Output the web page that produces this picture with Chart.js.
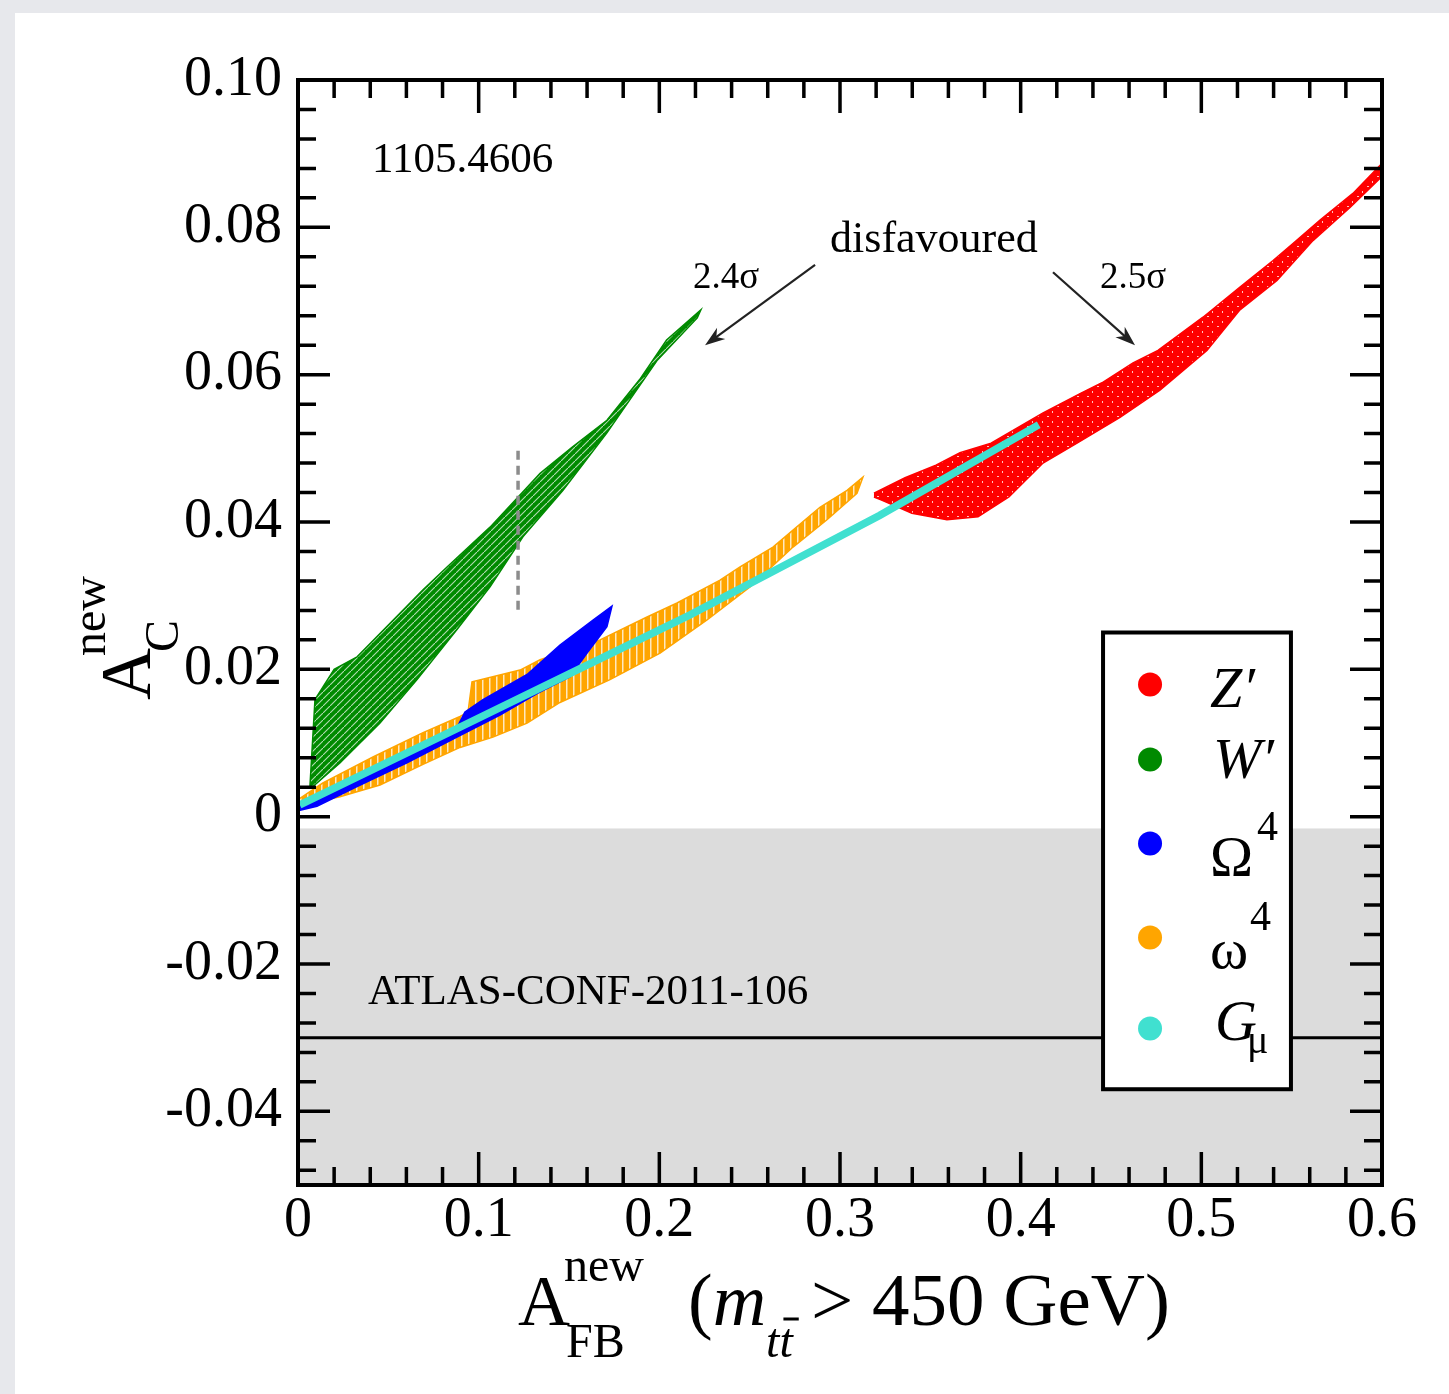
<!DOCTYPE html>
<html>
<head>
<meta charset="utf-8">
<script src="https://cdn.jsdelivr.net/npm/chart.js@4.4.1/dist/chart.umd.min.js"></script>
<style>
  html, body { margin: 0; padding: 0; background: #e7e8ec; }
  #wrap { position: absolute; left: 15px; top: 13px; width: 1434px; height: 1381px; background: #fff; }
  canvas { display: block; }
</style>
</head>
<body>
<div id="wrap"><canvas id="chart" width="1434" height="1381"></canvas></div>
<script>
// axis ticks
const xTickValues = [0, 0.1, 0.2, 0.3, 0.4, 0.5, 0.6];
const xTickLabels = ["0", "0.1", "0.2", "0.3", "0.4", "0.5", "0.6"];
const yTickValues = [-0.04, -0.02, 0, 0.02, 0.04, 0.06, 0.08, 0.10];
const yTickLabels = ["-0.04", "-0.02", "0", "0.02", "0.04", "0.06", "0.08", "0.10"];

// outlines of the scanned regions, [A_FB, A_C]
const zPrimeOutline = [
  [0.3188, 0.0439], [0.3360, 0.0460], [0.3531, 0.0477], [0.3664, 0.0494], [0.3836, 0.0507],
  [0.4124, 0.0548], [0.4334, 0.0575], [0.4450, 0.0589], [0.4622, 0.0616], [0.4760, 0.0633],
  [0.5009, 0.0678], [0.5214, 0.0719], [0.5397, 0.0755], [0.5507, 0.0778], [0.5657, 0.0810],
  [0.5839, 0.0846], [0.6000, 0.0887],
  [0.6000, 0.0869], [0.5823, 0.0827], [0.5618, 0.0782], [0.5419, 0.0728], [0.5214, 0.0688],
  [0.5031, 0.0633], [0.4771, 0.0579], [0.4550, 0.0542], [0.4312, 0.0507], [0.4124, 0.0480],
  [0.3935, 0.0434], [0.3764, 0.0407], [0.3592, 0.0403], [0.3398, 0.0412], [0.3227, 0.0430],
  [0.3188, 0.0434]
];
const wPrimeOutline = [
  [0.0066, 0.0041], [0.0094, 0.0159], [0.0200, 0.0200], [0.0327, 0.0217], [0.0692, 0.0308],
  [0.0825, 0.0339], [0.1063, 0.0393], [0.1340, 0.0466], [0.1520, 0.0502], [0.1710, 0.0538],
  [0.1890, 0.0593], [0.2040, 0.0647], [0.2230, 0.0688],
  [0.2210, 0.0677], [0.1990, 0.0620], [0.1710, 0.0521], [0.1467, 0.0443], [0.1245, 0.0380],
  [0.1063, 0.0312], [0.0880, 0.0254], [0.0659, 0.0186], [0.0454, 0.0127], [0.0232, 0.0073],
  [0.0083, 0.0041]
];
const omegaCapOutline = [
  [0.0000, 0.0016], [0.0327, 0.0055], [0.0692, 0.0098], [0.0880, 0.0121], [0.0924, 0.0142],
  [0.1024, 0.0159], [0.1268, 0.0193], [0.1450, 0.0233], [0.1633, 0.0267], [0.1738, 0.0286],
  [0.1710, 0.0258], [0.1600, 0.0222], [0.1506, 0.0190], [0.1323, 0.0167], [0.1118, 0.0138],
  [0.0880, 0.0108], [0.0603, 0.0073], [0.0327, 0.0041], [0.0105, 0.0014], [0.0000, 0.0008]
];
const omegaOutline = [
  [0.0000, 0.0023], [0.0138, 0.0046], [0.0415, 0.0081], [0.0692, 0.0114], [0.0897, 0.0136],
  [0.0941, 0.0142], [0.0963, 0.0183], [0.1229, 0.0199], [0.1340, 0.0213], [0.1672, 0.0240],
  [0.1932, 0.0271], [0.2098, 0.0290], [0.2336, 0.0321], [0.2447, 0.0339], [0.2629, 0.0366],
  [0.2740, 0.0389], [0.2889, 0.0420], [0.3039, 0.0443], [0.3127, 0.0461],
  [0.3094, 0.0439], [0.2928, 0.0403], [0.2740, 0.0366], [0.2502, 0.0312], [0.2264, 0.0267],
  [0.2004, 0.0222], [0.1727, 0.0186], [0.1450, 0.0155], [0.1268, 0.0127], [0.1079, 0.0108],
  [0.0897, 0.0094], [0.0692, 0.0071], [0.0454, 0.0043], [0.0232, 0.0027], [0.0011, 0.0015]
];
const gMuLine = [[0.001, 0.0016], [0.090, 0.0122], [0.217, 0.0274], [0.322, 0.0409], [0.410, 0.0532]];

// W' bound (dashed) and ATLAS measurement
const wBoundX = 0.1218;
const wBoundY = [0.0281, 0.0502];
const atlasValue = -0.030;
const atlasBandTop = -0.0016;

const legendColors = ["#ff0000", "#008a00", "#0000ff", "#ffa500", "#40e0d0"];

const SERIF = '"Liberation Serif", "Times New Roman", serif';
const serif = (size, italic) => (italic ? "italic " : "") + size + "px " + SERIF;
const pts = arr => arr.map(([x, y]) => ({ x, y }));

function makePattern(color, w, h, cut) {
  const c = document.createElement("canvas");
  c.width = w; c.height = h;
  const g = c.getContext("2d");
  g.fillStyle = color;
  g.fillRect(0, 0, w, h);
  g.fillStyle = "rgba(255,255,255,0.75)";
  g.strokeStyle = "rgba(255,255,255,0.7)";
  cut(g);
  return g.createPattern(c, "repeat");
}
const ctx = document.getElementById("chart").getContext("2d");
const greenFill = makePattern("#008a00", 7, 7, g => {
  g.lineWidth = 1.1;
  g.beginPath(); g.moveTo(0, 7); g.lineTo(7, 0); g.stroke();
});
const redFill = makePattern("#ff0000", 10, 10, g => {
  g.fillRect(2, 3, 2, 1); g.fillRect(7, 8, 1, 2);
});
const orangeFill = makePattern("#ffa500", 7, 7, g => {
  g.fillRect(5, 0, 1.5, 7);
});

const notes = [
  { text: "1105.4606", x: 0.041, y: 0.0875, size: 43 },
  { text: "disfavoured", x: 0.2945, y: 0.0766, size: 44 },
  { text: "2.4σ", x: 0.2186, y: 0.0717, size: 37 },
  { text: "2.5σ", x: 0.4439, y: 0.0717, size: 37 },
  { text: "ATLAS-CONF-2011-106", x: 0.0387, y: -0.0254, size: 43 }
];
const arrows = [
  { from: [0.2862, 0.0749], to: [0.2253, 0.0640] },
  { from: [0.4179, 0.0739], to: [0.4633, 0.0640] }
];

const decor = {
  id: "decor",
  beforeDatasetsDraw(chart) {
    const { ctx, chartArea: a, scales: { y } } = chart;
    const top = y.getPixelForValue(atlasBandTop);
    ctx.save();
    ctx.fillStyle = "#dcdcdc";
    ctx.fillRect(a.left, top, a.right - a.left, a.bottom - top);
    ctx.restore();
  },
  afterDatasetsDraw(chart) {
    const { ctx, chartArea: a, scales: { x, y } } = chart;
    ctx.save();
    // inner ticks on all four sides
    ctx.strokeStyle = "#000";
    ctx.lineWidth = 3.5;
    ctx.beginPath();
    for (let i = 0; i <= 30; i++) {
      const px = x.getPixelForValue(i * 0.02);
      const len = i % 5 === 0 ? 33 : 18;
      ctx.moveTo(px, a.bottom); ctx.lineTo(px, a.bottom - len);
      ctx.moveTo(px, a.top); ctx.lineTo(px, a.top + len);
    }
    for (let i = -12; i <= 25; i++) {
      const py = y.getPixelForValue(i * 0.004);
      const len = i % 5 === 0 ? 32 : 18;
      ctx.moveTo(a.left, py); ctx.lineTo(a.left + len, py);
      ctx.moveTo(a.right, py); ctx.lineTo(a.right - len, py);
    }
    ctx.stroke();
    ctx.lineWidth = 4;
    ctx.strokeRect(a.left, a.top, a.right - a.left, a.bottom - a.top);

    // notes and arrows
    ctx.fillStyle = "#000";
    ctx.textBaseline = "alphabetic";
    notes.forEach(n => {
      ctx.font = serif(n.size);
      ctx.fillText(n.text, x.getPixelForValue(n.x), y.getPixelForValue(n.y));
    });
    ctx.strokeStyle = "#222";
    ctx.fillStyle = "#222";
    ctx.lineWidth = 2.2;
    arrows.forEach(ar => {
      const x0 = x.getPixelForValue(ar.from[0]), y0 = y.getPixelForValue(ar.from[1]);
      const x1 = x.getPixelForValue(ar.to[0]), y1 = y.getPixelForValue(ar.to[1]);
      const ang = Math.atan2(y1 - y0, x1 - x0);
      const c = Math.cos(ang), s = Math.sin(ang);
      ctx.beginPath(); ctx.moveTo(x0, y0);
      ctx.lineTo(x1 - 10 * c, y1 - 10 * s); ctx.stroke();
      ctx.beginPath();
      ctx.moveTo(x1, y1);
      ctx.lineTo(x1 - 20 * c + 7 * s, y1 - 20 * s - 7 * c);
      ctx.lineTo(x1 - 14 * c, y1 - 14 * s);
      ctx.lineTo(x1 - 20 * c - 7 * s, y1 - 20 * s + 7 * c);
      ctx.closePath(); ctx.fill();
    });
    ctx.restore();
  },
  afterDraw(chart) {
    const { ctx, chartArea: a, scales: { x, y } } = chart;
    ctx.save();
    ctx.textBaseline = "alphabetic";

    // legend box
    const L = x.getPixelForValue(0.4456), R = x.getPixelForValue(0.5496);
    const T = y.getPixelForValue(0.0250), B = y.getPixelForValue(-0.0370);
    ctx.fillStyle = "#fff";
    ctx.fillRect(L, T, R - L, B - T);
    ctx.strokeStyle = "#000";
    ctx.lineWidth = 4;
    ctx.strokeRect(L, T, R - L, B - T);
    const rows = [52, 127, 211, 305, 396];
    rows.forEach((dy, i) => {
      ctx.fillStyle = legendColors[i];
      ctx.beginPath(); ctx.arc(L + 47, T + dy, 12, 0, Math.PI * 2); ctx.fill();
    });
    ctx.fillStyle = "#000";
    ctx.font = serif(58, true);
    ctx.fillText("Z′", L + 107, T + 74);
    ctx.fillText("W′", L + 110, T + 145);
    ctx.font = serif(58);
    ctx.fillText("Ω", L + 107, T + 243);
    ctx.fillText("ω", L + 107, T + 335);
    ctx.font = serif(42);
    ctx.fillText("4", L + 154, T + 207);
    ctx.fillText("4", L + 147, T + 297);
    ctx.font = serif(58, true);
    ctx.fillText("G", L + 112, T + 407);
    ctx.font = serif(40);
    ctx.fillText("μ", L + 144, T + 420);

    // x title
    let tx = a.left + 220;
    const base = a.bottom + 140;
    ctx.font = serif(72);
    ctx.fillText("A", tx, base);
    tx += ctx.measureText("A").width - 6;
    ctx.font = serif(48);
    ctx.fillText("new", tx, base - 44);
    ctx.fillText("FB", tx + 2, base + 32);
    tx = a.left + 390;
    ctx.font = serif(74);
    ctx.fillText("(", tx, base);
    tx += ctx.measureText("(").width;
    ctx.font = serif(74, true);
    ctx.fillText("m", tx, base);
    tx += ctx.measureText("m").width;
    ctx.font = serif(48, true);
    ctx.fillText("tt", tx, base + 32);
    const tw = ctx.measureText("t").width;
    ctx.lineWidth = 3;
    ctx.beginPath(); ctx.moveTo(tx + tw + 4, base - 6); ctx.lineTo(tx + 2 * tw + 6, base - 6); ctx.stroke();
    ctx.font = serif(75);
    ctx.fillText("> 450 GeV)", a.left + 513, base);

    // y title (rotated)
    ctx.translate(a.left - 148, a.top + 620);
    ctx.rotate(-Math.PI / 2);
    ctx.font = serif(72);
    ctx.fillText("A", 0, 0);
    const aw = ctx.measureText("A").width;
    ctx.font = serif(48);
    ctx.fillText("new", aw - 8, -45);
    ctx.fillText("C", aw - 4, 28);
    ctx.restore();
  }
};

new Chart(ctx, {
  type: "line",
  data: {
    datasets: [
      { data: pts(gMuLine), borderColor: "#40e0d0", borderWidth: 7.5, fill: false, order: 0 },
      { data: pts(omegaCapOutline), borderColor: "#0000ff", backgroundColor: "#0000ff", borderWidth: 1.5, fill: "shape", order: 1 },
      { data: pts(omegaOutline), borderColor: "#ffa500", backgroundColor: orangeFill, borderWidth: 1.5, fill: "shape", order: 2 },
      { data: [{ x: wBoundX, y: wBoundY[0] }, { x: wBoundX, y: wBoundY[1] }], borderColor: "#8c8c8c", borderWidth: 3.5, borderDash: [9, 6], fill: false, order: 3 },
      { data: pts(wPrimeOutline), borderColor: "#008a00", backgroundColor: greenFill, borderWidth: 1.5, fill: "shape", order: 4 },
      { data: pts(zPrimeOutline), borderColor: "#ff0000", backgroundColor: redFill, borderWidth: 1.5, fill: "shape", order: 5 },
      { data: [{ x: 0, y: atlasValue }, { x: 0.6, y: atlasValue }], borderColor: "#000", borderWidth: 3, fill: false, order: 6 }
    ]
  },
  options: {
    responsive: false,
    animation: false,
    events: [],
    elements: { point: { radius: 0 }, line: { tension: 0 } },
    layout: { padding: { top: 67, right: 67, left: 0, bottom: 0 } },
    plugins: { legend: { display: false }, tooltip: { enabled: false } },
    scales: {
      x: {
        type: "linear", min: 0, max: 0.6,
        grid: { display: false, drawTicks: false }, border: { display: false },
        afterBuildTicks: s => { s.ticks = xTickValues.map(v => ({ value: v })); },
        afterFit: s => { s.height = 209; },
        ticks: {
          autoSkip: false, maxRotation: 0, padding: 3, color: "#000",
          font: { family: SERIF, size: 56 },
          callback: (v, i) => xTickLabels[i]
        }
      },
      y: {
        type: "linear", min: -0.05, max: 0.10,
        grid: { display: false, drawTicks: false }, border: { display: false },
        afterBuildTicks: s => { s.ticks = yTickValues.map(v => ({ value: v })); },
        afterFit: s => { s.width = 283; },
        ticks: {
          autoSkip: false, padding: 16, color: "#000",
          font: { family: SERIF, size: 56 },
          callback: (v, i) => yTickLabels[i]
        }
      }
    }
  },
  plugins: [decor]
});
</script>
</body>
</html>
